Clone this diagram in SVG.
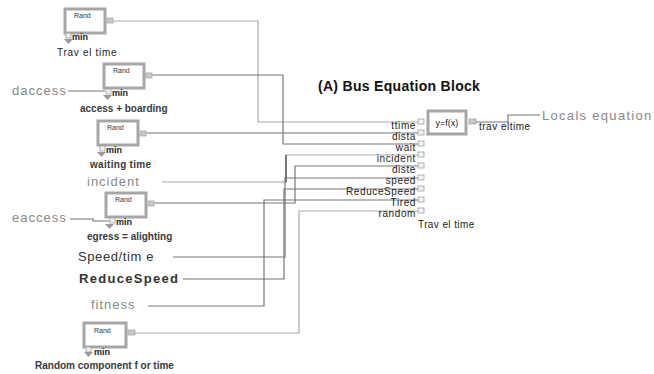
<svg xmlns="http://www.w3.org/2000/svg" width="654" height="374" viewBox="0 0 654 374">
<style>
.box{fill:#fff;stroke:#a6a6a6;stroke-width:3}
.port{fill:#f2f2f2;stroke:#a0a0a0;stroke-width:0.8}
.oport{fill:#c8c8c8;stroke:#a8a8a8;stroke-width:0.8}
.tri{fill:#9a9a9a}
.rand{font-family:"Liberation Sans",Arial,sans-serif;font-size:7px;fill:#334;}
.min{font-family:"Liberation Sans",Arial,sans-serif;font-size:9px;font-weight:bold;fill:#222}
.lbl{font-family:"Liberation Sans",Arial,sans-serif;font-size:10px;fill:#222}
.lblb{font-family:"Liberation Sans",Arial,sans-serif;font-size:10px;fill:#3a3a3a;font-weight:bold}
.in{font-family:"Liberation Sans",Arial,sans-serif;font-size:10px;fill:#222;text-anchor:end;letter-spacing:0.6px}
.var{font-family:"Liberation Sans",Arial,sans-serif;font-size:13px;fill:#888;letter-spacing:1px}
.varD{font-family:"Liberation Sans",Arial,sans-serif;font-size:13px;fill:#333;letter-spacing:0.6px}
.title{font-family:"Liberation Sans",Arial,sans-serif;font-size:14px;font-weight:bold;fill:#111;letter-spacing:0.3px}
.c{fill:none;stroke:#a8a8a8;stroke-width:1.2}
.cd{fill:none;stroke:#777;stroke-width:1.2}
</style>

<g id="connectors">
  <polyline class="c" points="112,21 258,21 258,122 418,122"/>
  <polyline class="cd" points="150,75 283,75 283,144 418,144"/>
  <polyline class="cd" points="145,133 418,133"/>
  <polyline class="c" points="162,182 286,182 286,155 418,155"/>
  <polyline class="cd" points="286,182 286,155" style="stroke-width:2"/>
  <polyline class="cd" points="152,203 295,203 295,166 418,166"/>
  <polyline class="cd" points="173,257 285,257 285,178 418,178"/>
  <polyline class="cd" points="183,279 284,279 284,189 418,189"/>
  <polyline class="cd" points="148,306 264,306 264,200 418,200"/>
  <polyline class="c" points="135,333 299,333 299,211 418,211"/>
  <polyline class="cd" points="68,91 105,91"/>
  <polyline class="cd" points="70,219 93,219 93,221 110,221"/>
  <polyline class="cd" points="476,122 508,122 508,115 540,115"/>
</g>

<g id="rand-travel">
  <rect class="box" x="65" y="9" width="40" height="24"/>
  <text class="rand" x="74" y="18">Rand</text>
  <rect class="oport" x="107" y="18" width="6" height="5"/>
  <rect class="port" x="66" y="33" width="5" height="5"/>
  <text class="min" x="72" y="40">min</text>
  <polygon class="tri" points="64,39 73,39 68.5,44"/>
  <text class="lbl" x="57" y="56" style="letter-spacing:0.7px">Trav el time</text>
</g>

<g id="rand-access">
  <rect class="box" x="104" y="64" width="40" height="24"/>
  <text class="rand" x="113" y="73">Rand</text>
  <rect class="oport" x="146" y="73" width="6" height="5"/>
  <rect class="port" x="106" y="89" width="5" height="5"/>
  <text class="min" x="112" y="96">min</text>
  <polygon class="tri" points="103,95 112,95 107.5,100"/>
  <text class="lblb" x="80" y="112">access + boarding</text>
</g>

<g id="rand-waiting">
  <rect class="box" x="98" y="121" width="40" height="24"/>
  <text class="rand" x="107" y="130">Rand</text>
  <rect class="oport" x="140" y="131" width="6" height="5"/>
  <rect class="port" x="100" y="146" width="5" height="5"/>
  <text class="min" x="106" y="153">min</text>
  <polygon class="tri" points="97,152 106,152 101.5,157"/>
  <text class="lblb" x="90" y="168" style="letter-spacing:0.3px">waiting time</text>
</g>

<g id="rand-egress">
  <rect class="box" x="106" y="193" width="40" height="24"/>
  <text class="rand" x="115" y="202">Rand</text>
  <rect class="oport" x="148" y="201" width="6" height="5"/>
  <rect class="port" x="110" y="218" width="5" height="5"/>
  <text class="min" x="116" y="225">min</text>
  <polygon class="tri" points="105,224 114,224 109.5,229"/>
  <text class="lblb" x="87" y="240">egress = alighting</text>
</g>

<g id="rand-random">
  <rect class="box" x="84" y="323" width="42" height="24"/>
  <text class="rand" x="94" y="333">Rand</text>
  <rect class="oport" x="128" y="330" width="7" height="5"/>
  <rect class="port" x="86" y="347" width="5" height="5"/>
  <text class="min" x="94" y="355">min</text>
  <polygon class="tri" points="84,352 93,352 88.5,357"/>
  <text class="lblb" x="35" y="369">Random component f or time</text>
</g>

<g id="var-daccess"><text class="var" x="12" y="95">daccess</text></g>
<g id="var-incident"><text class="var" x="87" y="186">incident</text></g>
<g id="var-eaccess"><text class="var" x="12" y="222">eaccess</text></g>
<g id="var-speed"><text class="varD" x="78" y="261">Speed/tim e</text></g>
<g id="var-reduce"><text class="varD" x="79" y="283" style="font-weight:bold;letter-spacing:1.3px">ReduceSpeed</text></g>
<g id="var-fitness"><text class="var" x="91" y="309">fitness</text></g>

<g id="title"><text class="title" x="318" y="91">(A) Bus Equation Block</text></g>

<g id="equation-block">
  <rect class="box" x="428" y="111" width="38" height="23"/>
  <text x="447" y="126" text-anchor="middle" font-family="Liberation Sans, Arial, sans-serif" font-size="9" fill="#222">y=f(x)</text>
  <rect class="oport" x="469" y="119" width="7" height="5"/>
  <text class="lbl" x="479" y="130" style="letter-spacing:0.5px">trav eltime</text>
  <rect class="port" x="418" y="119" width="6" height="5"/>
  <rect class="port" x="418" y="130" width="6" height="5"/>
  <rect class="port" x="418" y="141" width="6" height="5"/>
  <rect class="port" x="418" y="152" width="6" height="5"/>
  <rect class="port" x="418" y="163" width="6" height="5"/>
  <rect class="port" x="418" y="175" width="6" height="5"/>
  <rect class="port" x="418" y="186" width="6" height="5"/>
  <rect class="port" x="418" y="197" width="6" height="5"/>
  <rect class="port" x="418" y="208" width="6" height="5"/>
  <text class="in" x="416" y="129">ttime</text>
  <text class="in" x="416" y="140">dista</text>
  <text class="in" x="416" y="151">wait</text>
  <text class="in" x="416" y="162">incident</text>
  <text class="in" x="416" y="173">diste</text>
  <text class="in" x="416" y="184">speed</text>
  <text class="in" x="416" y="195">ReduceSpeed</text>
  <text class="in" x="416" y="206">Tired</text>
  <text class="in" x="416" y="217">random</text>
  <text class="lbl" x="418" y="228" style="letter-spacing:0.4px">Trav el time</text>
</g>

<g id="var-locals"><text class="var" x="542" y="120" style="letter-spacing:1.3px">Locals equation</text></g>
</svg>
